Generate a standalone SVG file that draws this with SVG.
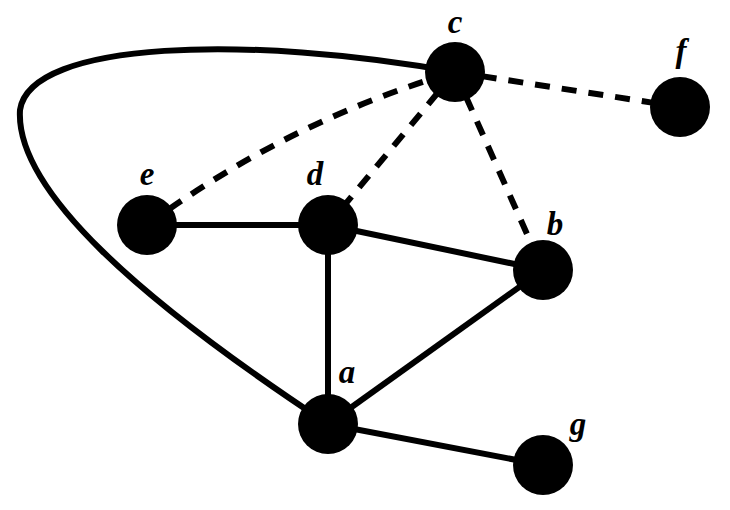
<svg xmlns="http://www.w3.org/2000/svg" width="730" height="510" viewBox="0 0 730 510">
<style>
.e{fill:none;stroke:#000;stroke-width:6}
.dash{stroke-dasharray:15 12}
.n{fill:#000}
.l{font-family:"Liberation Serif",serif;font-weight:bold;font-style:italic;font-size:33px;text-anchor:middle;fill:#000}
</style>
<rect width="730" height="510" fill="#fff"/>
<g id="connectors">
<path class="e" d="M455 72 C250 35 30 40 20 110 C15 190 140 300 328 424"/>
<path class="e dash" d="M455 72 L680 107"/>
<path class="e dash" d="M147 225 Q290 120 455 72"/>
<path class="e dash" d="M455 72 L328 225"/>
<path class="e dash" d="M455 72 L543 270"/>
<path class="e" d="M147 225 L328 225"/>
<path class="e" d="M328 225 L543 270"/>
<path class="e" d="M328 225 L328 424"/>
<path class="e" d="M328 424 L543 270"/>
<path class="e" d="M328 424 L543 465"/>
</g>
<g id="c"><circle class="n" cx="455" cy="72" r="30"/><text class="l" x="455" y="33">c</text></g>
<g id="f"><circle class="n" cx="680" cy="107" r="30"/><text class="l" x="681" y="62">f</text></g>
<g id="e"><circle class="n" cx="147" cy="225" r="30"/><text class="l" x="147" y="185">e</text></g>
<g id="d"><circle class="n" cx="328" cy="225" r="30"/><text class="l" x="315" y="185">d</text></g>
<g id="b"><circle class="n" cx="543" cy="270" r="30"/><text class="l" x="555" y="235">b</text></g>
<g id="a"><circle class="n" cx="328" cy="424" r="30"/><text class="l" x="347" y="383">a</text></g>
<g id="g"><circle class="n" cx="543" cy="465" r="30"/><text class="l" x="578" y="435">g</text></g>
</svg>
